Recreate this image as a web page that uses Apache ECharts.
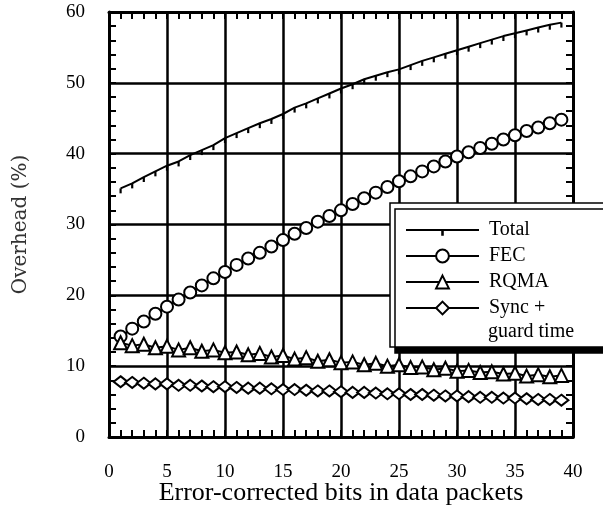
<!DOCTYPE html>
<html>
<head>
<meta charset="utf-8">
<script src="https://cdn.jsdelivr.net/npm/echarts@6/dist/echarts.min.js"></script>
<style>
    html, body { margin: 0; padding: 0; background: #fff; }
    #chart { width: 603px; height: 512px; }
</style>
</head>
<body>
<div id="chart"></div>
<script>
// error-corrected bits (x)
var bits = [1, 2, 3, 4, 5, 6, 7, 8, 9, 10, 11, 12, 13, 14, 15, 16, 17, 18, 19, 20,
    21, 22, 23, 24, 25, 26, 27, 28, 29, 30, 31, 32, 33, 34, 35, 36, 37, 38, 39];

// overhead (%) per series
var total = [35.1, 35.8, 36.7, 37.5, 38.3, 38.9, 39.8, 40.5, 41.2, 42.2,
    42.9, 43.6, 44.3, 44.9, 45.6, 46.5, 47.1, 47.8, 48.5, 49.2,
    49.8, 50.5, 51.0, 51.5, 51.9, 52.5, 53.1, 53.6, 54.1, 54.6,
    55.1, 55.6, 56.1, 56.6, 57.0, 57.4, 57.8, 58.2, 58.5];
var fec = [14.2, 15.3, 16.3, 17.4, 18.4, 19.4, 20.4, 21.4, 22.4, 23.3,
    24.3, 25.2, 26.0, 26.9, 27.8, 28.7, 29.5, 30.4, 31.2, 32.0,
    32.9, 33.7, 34.5, 35.3, 36.1, 36.8, 37.5, 38.2, 38.9, 39.6,
    40.2, 40.8, 41.4, 42.0, 42.6, 43.2, 43.7, 44.3, 44.8];
var rqma = [13.3, 12.9, 13.1, 12.6, 12.8, 12.3, 12.6, 12.1, 12.3, 11.9,
    12.0, 11.6, 11.8, 11.3, 11.5, 11.0, 11.2, 10.7, 10.9, 10.5,
    10.6, 10.2, 10.4, 10.0, 10.2, 9.8, 9.9, 9.5, 9.7, 9.3,
    9.4, 9.1, 9.2, 8.9, 9.0, 8.6, 8.8, 8.5, 8.7];
var sync = [7.8, 7.7, 7.6, 7.5, 7.5, 7.3, 7.3, 7.2, 7.1, 7.1,
    7.0, 6.9, 6.9, 6.8, 6.7, 6.7, 6.6, 6.5, 6.5, 6.4,
    6.3, 6.3, 6.2, 6.1, 6.1, 6.0, 6.0, 5.9, 5.8, 5.8,
    5.7, 5.6, 5.6, 5.5, 5.5, 5.4, 5.3, 5.3, 5.2];

var xTicks = { min: 0, max: 40, interval: 5 };
var yTicks = { min: 0, max: 60, interval: 10 };

var FONT = 'Liberation Serif';
// small tick hanging below the point, inside a square box so the legend keeps it small
var TICK = 'path://M0,0 M10,10 M4,5 h2 v4.5 h-2 z';

function pairs(ys) {
    return bits.map(function (x, i) { return [x, ys[i]]; });
}

// frame axis (used for all four sides)
function frameAxis(range, pos, main) {
    return {
        type: 'value',
        position: pos,
        min: range.min,
        max: range.max,
        interval: range.interval,
        axisLine: { show: true, onZero: false, lineStyle: { color: '#000', width: 3 } },
        axisTick: { show: true, inside: true, length: 7, lineStyle: { color: '#000', width: 2 } },
        minorTick: { show: true, splitNumber: 5, length: 7, lineStyle: { color: '#000', width: 2 } },
        splitLine: { show: main, lineStyle: { color: '#000', width: 2.5 } },
        axisLabel: { show: main, color: '#000', fontFamily: FONT, fontSize: 19, margin: 24 }
    };
}

function lineSeries(name, ys, symbol, size, extra) {
    var s = {
        name: name,
        type: 'line',
        data: pairs(ys),
        symbol: symbol,
        symbolSize: size,
        showAllSymbol: true,
        lineStyle: { color: '#000', width: 2 },
        itemStyle: { color: '#fff', borderColor: '#000', borderWidth: 2 },
        emphasis: { disabled: true },
        animation: false
    };
    for (var k in extra) s[k] = extra[k];
    return s;
}

var xMain = frameAxis(xTicks, 'bottom', true);
xMain.axisLabel.margin = 26;
xMain.name = 'Error-corrected bits in data packets';
xMain.nameLocation = 'middle';
xMain.nameMoveOverlap = false;
xMain.nameGap = 43;
xMain.nameTextStyle = { color: '#000', fontFamily: FONT, fontSize: 26 };

var yMain = frameAxis(yTicks, 'left', true);
yMain.name = 'Overhead (%)';
yMain.nameLocation = 'middle';
yMain.nameGap = 78;
yMain.nameTextStyle = { color: '#333', fontFamily: 'DejaVu Serif', fontSize: 20 };

var option = {
    backgroundColor: '#fff',
    animation: false,
    grid: { left: 109, top: 12, right: 30, bottom: 75, outerBoundsMode: 'none' },
    xAxis: [xMain, frameAxis(xTicks, 'top', false)],
    yAxis: [yMain, frameAxis(yTicks, 'right', false)],
    legend: {
        orient: 'vertical',
        left: 390,
        top: 203,
        padding: [17, 200, 29, 15],
        itemWidth: 73,
        itemHeight: 16,
        itemGap: 6,
        backgroundColor: '#fff',
        borderColor: '#000',
        borderWidth: 1.5,
        shadowColor: '#000',
        shadowBlur: 0,
        shadowOffsetX: 5,
        shadowOffsetY: 6,
        selectedMode: false,
        textStyle: { color: '#000', fontFamily: FONT, fontSize: 20, padding: [0, 0, 0, 5] },
        data: ['Total', 'FEC', 'RQMA', 'Sync +']
    },
    graphic: [{
        type: 'text',
        left: 488,
        top: 322,
        z: 100,
        style: { text: 'guard time', fill: '#000', font: '20px "Liberation Serif"' }
    }],
    series: [
        lineSeries('Total', total, TICK, 11, {
            itemStyle: { color: '#000', borderColor: '#000', borderWidth: 0 }
        }),
        lineSeries('FEC', fec, 'circle', 12, {}),
        lineSeries('RQMA', rqma, 'triangle', 13, {}),
        lineSeries('Sync +', sync, 'diamond', [14, 11], {})
    ]
};

var myChart = echarts.init(document.getElementById('chart'), null, { renderer: 'canvas' });
myChart.setOption(option);
</script>
</body>
</html>
